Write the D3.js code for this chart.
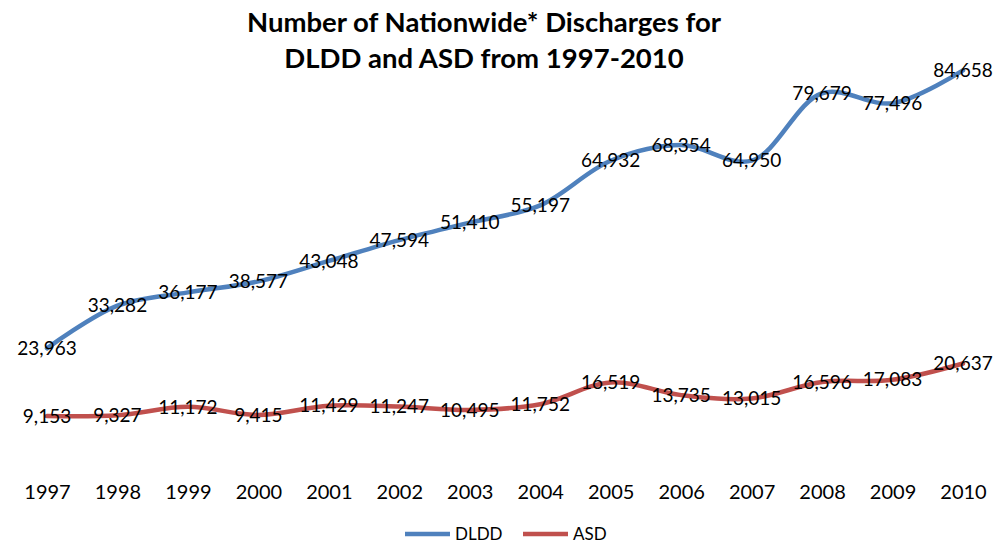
<!DOCTYPE html>
<html>
<head>
<meta charset="utf-8">
<script src="https://cdn.jsdelivr.net/npm/d3@7"></script>
<style>
  html, body { margin: 0; padding: 0; background: #fff; }
  svg { display: block; font-family: Lato, "Open Sans", sans-serif; }
</style>
</head>
<body>
<svg id="chart" width="1005" height="544"></svg>
<script>
// Discharge counts by year
const years = ["1997","1998","1999","2000","2001","2002","2003","2004","2005","2006","2007","2008","2009","2010"];
const dldd = [23963, 33282, 36177, 38577, 43048, 47594, 51410, 55197, 64932, 68354, 64950, 79679, 77496, 84658];
const asd  = [9153, 9327, 11172, 9415, 11429, 11247, 10495, 11752, 16519, 13735, 13015, 16596, 17083, 20637];
const titleLines = ["Number of Nationwide* Discharges for", "DLDD and ASD from 1997-2010"];
const seriesNames = ["DLDD", "ASD"];
const seriesColors = ["#4F81BD", "#C0504D"];

const svg = d3.select("#chart");

const x = d3.scalePoint().domain(years).range([47, 963]);
const y = d3.scaleLinear().domain([0, 90000]).range([458, 46]);

// Title
svg.append("g").selectAll("text")
  .data(titleLines)
  .join("text")
  .attr("x", 484)
  .attr("y", (d, i) => 32 + i * 36)
  .attr("text-anchor", "middle")
  .attr("font-weight", "bold")
  .attr("font-size", 27.5)
  .attr("fill", "#000")
  .text(d => d);

// Category axis (labels only)
const xAxis = svg.append("g")
  .attr("transform", "translate(0,458)")
  .call(d3.axisBottom(x).tickSize(0).tickPadding(27));
xAxis.select(".domain").remove();
xAxis.selectAll("text")
  .attr("font-size", 20)
  .attr("font-family", "Lato, 'Open Sans', sans-serif")
  .attr("fill", "#000");

const line = d3.line()
  .x((d, i) => x(years[i]))
  .y(d => y(d))
  .curve(d3.curveCatmullRom.alpha(0.5));

const series = [dldd, asd];

// Lines
svg.append("g").selectAll("path")
  .data(series)
  .join("path")
  .attr("d", d => line(d))
  .attr("fill", "none")
  .attr("stroke", (d, i) => seriesColors[i])
  .attr("stroke-width", 4.5)
  .attr("stroke-linejoin", "round")
  .attr("stroke-linecap", "round");

// Value labels centred on each point
const fmt = d3.format(",");
series.forEach((vals, s) => {
  svg.append("g").selectAll("text")
    .data(vals)
    .join("text")
    .attr("x", (d, i) => x(years[i]))
    .attr("y", d => y(d))
    .attr("dy", "0.35em")
    .attr("text-anchor", "middle")
    .attr("font-size", 19)
    .attr("fill", "#000")
    .text(d => fmt(d));
});

// Legend
const legend = svg.append("g");
const legendX = [405, 523];
seriesNames.forEach((name, i) => {
  legend.append("line")
    .attr("x1", legendX[i]).attr("x2", legendX[i] + 45)
    .attr("y1", 534).attr("y2", 534)
    .attr("stroke", seriesColors[i])
    .attr("stroke-width", 4.5);
  legend.append("text")
    .attr("x", legendX[i] + 50)
    .attr("y", 534)
    .attr("dy", "0.35em")
    .attr("font-size", 17)
    .attr("fill", "#000")
    .text(name);
});
</script>
</body>
</html>
